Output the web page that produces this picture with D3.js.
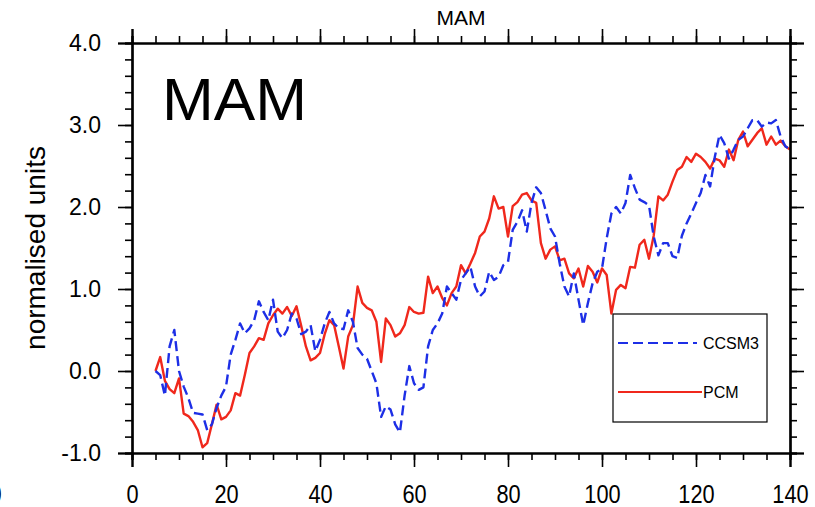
<!DOCTYPE html>
<html>
<head>
<meta charset="utf-8">
<script src="https://cdn.jsdelivr.net/npm/d3@7/dist/d3.min.js"></script>
<style>
  html, body { margin: 0; padding: 0; background: #fff; }
  svg { display: block; }
  text { font-family: "Liberation Sans", Arial, Helvetica, sans-serif; fill: #000; }
</style>
</head>
<body>
<svg id="chart" width="815" height="507"></svg>
<script>
// Years of the record
const years = d3.range(5, 141);

// CCSM3 anomaly (normalised units), one value per year 5..140
const ccsm3 = [
  0.00, -0.05, -0.30, 0.30, 0.50, 0.00, -0.19, -0.33, -0.51, -0.52,
  -0.53, -0.72, -0.65, -0.45, -0.30, -0.19, 0.20, 0.38, 0.58, 0.46,
  0.52, 0.62, 0.85, 0.72, 0.62, 0.87, 0.48, 0.40, 0.50, 0.70,
  0.64, 0.45, 0.48, 0.56, 0.24, 0.38, 0.58, 0.72, 0.58, 0.52,
  0.51, 0.74, 0.60, 0.28, 0.20, 0.15, 0.00, -0.15, -0.56, -0.43,
  -0.47, -0.65, -0.75, -0.30, 0.06, -0.15, -0.23, -0.20, 0.30, 0.50,
  0.58, 0.70, 1.03, 0.95, 0.87, 1.11, 1.19, 1.27, 1.03, 0.91,
  0.97, 1.21, 1.11, 1.15, 1.29, 1.33, 1.72, 1.82, 1.96, 1.70,
  2.05, 2.24, 2.17, 1.96, 1.74, 1.64, 1.31, 1.03, 0.91, 1.19,
  0.87, 0.56, 0.83, 1.07, 1.21, 1.25, 1.62, 1.92, 2.00, 1.92,
  2.05, 2.39, 2.23, 2.09, 2.06, 2.02, 1.64, 1.41, 1.56, 1.56,
  1.40, 1.38, 1.65, 1.80, 1.92, 2.05, 2.17, 2.39, 2.25, 2.61,
  2.88, 2.78, 2.59, 2.70, 2.82, 2.86, 2.96, 3.06, 3.06, 2.98,
  3.03, 3.02, 3.06, 2.86, 2.74, 2.70
];

// PCM anomaly (normalised units), one value per year 5..140
const pcm = [
  0.00, 0.17, -0.12, -0.22, -0.27, -0.09, -0.52, -0.55, -0.62, -0.72,
  -0.93, -0.88, -0.65, -0.41, -0.59, -0.56, -0.48, -0.27, -0.30, -0.05,
  0.22, 0.30, 0.40, 0.38, 0.58, 0.68, 0.76, 0.70, 0.78, 0.67,
  0.79, 0.55, 0.30, 0.13, 0.16, 0.22, 0.45, 0.62, 0.56, 0.30,
  0.03, 0.42, 0.56, 1.03, 0.83, 0.77, 0.74, 0.60, 0.11, 0.64,
  0.56, 0.42, 0.46, 0.56, 0.78, 0.72, 0.70, 0.71, 1.15, 0.95,
  1.03, 0.89, 0.80, 0.95, 1.03, 1.29, 1.19, 1.31, 1.44, 1.64,
  1.70, 1.86, 2.13, 1.98, 2.00, 1.64, 2.01, 2.06, 2.15, 2.17,
  2.08, 2.05, 1.56, 1.37, 1.48, 1.52, 1.35, 1.37, 1.19, 1.13,
  1.25, 1.03, 1.28, 1.21, 1.08, 1.25, 1.17, 0.70, 0.99, 1.05,
  1.01, 1.27, 1.26, 1.54, 1.60, 1.37, 1.65, 2.13, 2.08, 2.15,
  2.31, 2.45, 2.49, 2.61, 2.55, 2.65, 2.61, 2.55, 2.47, 2.59,
  2.57, 2.49, 2.70, 2.57, 2.82, 2.92, 2.74, 2.82, 2.90, 2.96,
  2.76, 2.86, 2.76, 2.81, 2.74, 2.70
];

// Axis tick values and labels
const xTicks = [0, 20, 40, 60, 80, 100, 120, 140];
const xMinor = d3.range(0, 141, 5);
const yTicks = [-1, 0, 1, 2, 3, 4];
const yTickLabels = ["-1.0", "0.0", "1.0", "2.0", "3.0", "4.0"];
const yMinor = d3.range(-1, 4.001, 0.2).map(v => Math.round(v * 10) / 10);
const seriesNames = ["CCSM3", "PCM"];

const colors = { CCSM3: "#1d2fe6", PCM: "#f0281c" };

const svg = d3.select("#chart");
const plot = { left: 132, right: 790, top: 43, bottom: 453 };

const x = d3.scaleLinear().domain([0, 140]).range([plot.left, plot.right]);
const y = d3.scaleLinear().domain([-1, 4]).range([plot.bottom, plot.top]);

// Data lines
const line = d3.line().x((d, i) => x(years[i])).y(d => y(d));

svg.append("path")
  .datum(pcm)
  .attr("d", line)
  .attr("fill", "none")
  .attr("stroke", colors.PCM)
  .attr("stroke-width", 2.4)
  .attr("stroke-linejoin", "round");

svg.append("path")
  .datum(ccsm3)
  .attr("d", line)
  .attr("fill", "none")
  .attr("stroke", colors.CCSM3)
  .attr("stroke-width", 2.4)
  .attr("stroke-dasharray", "10,5")
  .attr("stroke-linejoin", "round");

// Axes: ticks point outward on all four sides
function styleAxis(g) {
  g.select(".domain").attr("stroke", "#000").attr("stroke-width", 2.2);
  g.selectAll(".tick line").attr("stroke", "#000").attr("stroke-width", 1.6);
}

// minor ticks first
svg.append("g").attr("transform", `translate(0,${plot.bottom})`)
  .call(d3.axisBottom(x).tickValues(xMinor).tickSize(7).tickFormat(""))
  .call(styleAxis);
svg.append("g").attr("transform", `translate(0,${plot.top})`)
  .call(d3.axisTop(x).tickValues(xMinor).tickSize(7).tickFormat(""))
  .call(styleAxis);
svg.append("g").attr("transform", `translate(${plot.left},0)`)
  .call(d3.axisLeft(y).tickValues(yMinor).tickSize(7).tickFormat(""))
  .call(styleAxis);
svg.append("g").attr("transform", `translate(${plot.right},0)`)
  .call(d3.axisRight(y).tickValues(yMinor).tickSize(7).tickFormat(""))
  .call(styleAxis);

// major ticks and labels
const xb = svg.append("g").attr("transform", `translate(0,${plot.bottom})`)
  .call(d3.axisBottom(x).tickValues(xTicks).tickSize(14).tickPadding(18).tickFormat(d3.format("d")))
  .call(styleAxis);
xb.selectAll("text").attr("font-size", 25).attr("transform", "scale(0.87,1)");

svg.append("g").attr("transform", `translate(0,${plot.top})`)
  .call(d3.axisTop(x).tickValues(xTicks).tickSize(14).tickFormat(""))
  .call(styleAxis);

const yl = svg.append("g").attr("transform", `translate(${plot.left},0)`)
  .call(d3.axisLeft(y).tickValues(yTicks).tickSize(14).tickPadding(17)
    .tickFormat((d, i) => yTickLabels[i]))
  .call(styleAxis);
yl.selectAll("text").attr("font-size", 23);

svg.append("g").attr("transform", `translate(${plot.right},0)`)
  .call(d3.axisRight(y).tickValues(yTicks).tickSize(14).tickFormat(""))
  .call(styleAxis);

// Titles
svg.append("text").attr("x", 461).attr("y", 25)
  .attr("text-anchor", "middle").attr("font-size", 21).text("MAM");

svg.append("text").attr("x", 162).attr("y", 120)
  .attr("font-size", 59)
  .attr("textLength", 145).attr("lengthAdjust", "spacingAndGlyphs")
  .text("MAM");

svg.append("text")
  .attr("transform", `translate(45,${(plot.top + plot.bottom) / 2}) rotate(-90)`)
  .attr("text-anchor", "middle").attr("font-size", 28)
  .text("normalised units");

// Label of the neighbouring panel, partly outside the left edge
svg.append("text").attr("x", -12).attr("y", 503)
  .attr("font-size", 25).attr("transform", "scale(0.87,1)").text("0");

// Legend
const lg = svg.append("g");
lg.append("rect").attr("x", 613).attr("y", 314).attr("width", 154).attr("height", 108)
  .attr("fill", "#fff").attr("stroke", "#000").attr("stroke-width", 1.2);

const legendRows = [
  { name: seriesNames[0], y: 343, x2: 697, dash: "10,5" },
  { name: seriesNames[1], y: 392, x2: 702, dash: null }
];
legendRows.forEach(r => {
  lg.append("line").attr("x1", 618).attr("x2", r.x2).attr("y1", r.y).attr("y2", r.y)
    .attr("stroke", colors[r.name]).attr("stroke-width", 2.2)
    .attr("stroke-dasharray", r.dash);
  lg.append("text").attr("x", 703).attr("y", r.y + 6)
    .attr("font-size", 16).text(r.name);
});
</script>
</body>
</html>
